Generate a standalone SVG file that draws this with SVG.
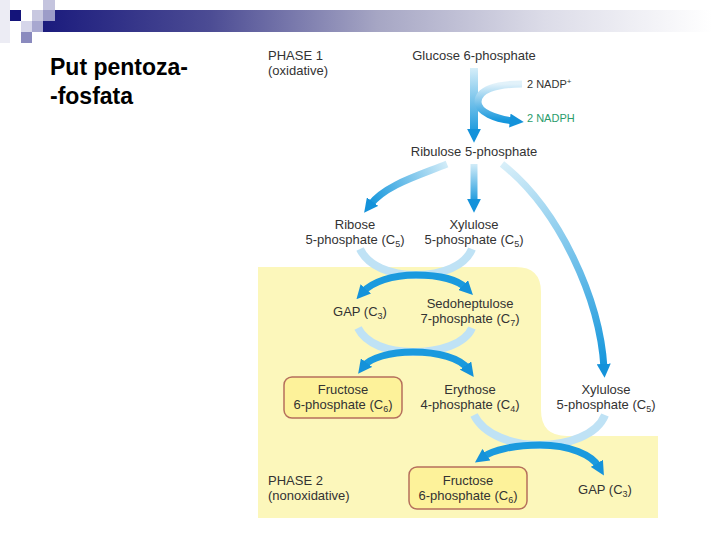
<svg xmlns="http://www.w3.org/2000/svg" width="720" height="540" viewBox="0 0 720 540">
<style>
.t{font-family:"Liberation Sans",Arial,sans-serif;font-size:13px;fill:#333333}
.m{text-anchor:middle}
.sub{font-size:9px}
.title{font-family:"Liberation Sans",Arial,sans-serif;font-size:23px;font-weight:bold;fill:#000}
.pale{fill:none;stroke:#bfe2f5;stroke-width:8}
.dark{fill:none;stroke:#1a9ade;stroke-width:7;marker-end:url(#ah)}
.box{fill:#fdf29a;stroke:#b56f5c;stroke-width:1.5}
</style>
<defs>
<linearGradient id="bar" gradientUnits="userSpaceOnUse" x1="43" y1="0" x2="712" y2="0">
<stop offset="0" stop-color="#1b1b7d"/><stop offset="0.25" stop-color="#4c4c94"/><stop offset="0.5" stop-color="#a6a6c4"/><stop offset="0.75" stop-color="#dcdce8"/><stop offset="1" stop-color="#ffffff"/>
</linearGradient>
<linearGradient id="g1" gradientUnits="userSpaceOnUse" x1="0" y1="68" x2="0" y2="135"><stop offset="0" stop-color="#d6eef9"/><stop offset="1" stop-color="#1496dc"/></linearGradient>
<linearGradient id="g2" gradientUnits="userSpaceOnUse" x1="0" y1="84" x2="0" y2="121"><stop offset="0" stop-color="#e2f2fa"/><stop offset="1" stop-color="#1496dc"/></linearGradient>
<linearGradient id="g3" gradientUnits="userSpaceOnUse" x1="447" y1="164" x2="370" y2="205"><stop offset="0" stop-color="#d2ecf8"/><stop offset="1" stop-color="#1496dc"/></linearGradient>
<linearGradient id="g4" gradientUnits="userSpaceOnUse" x1="0" y1="164" x2="0" y2="203"><stop offset="0" stop-color="#d2ecf8"/><stop offset="1" stop-color="#1496dc"/></linearGradient>
<linearGradient id="g5" gradientUnits="userSpaceOnUse" x1="502" y1="164" x2="604" y2="368"><stop offset="0" stop-color="#d8eff9"/><stop offset="1" stop-color="#1496dc"/></linearGradient>
<marker id="ah" viewBox="0 0 10 10" refX="3" refY="5" markerWidth="14" markerHeight="14" markerUnits="userSpaceOnUse" orient="auto">
<path d="M0,0 L10,5 L0,10 z" fill="#1492da"/>
</marker>
</defs>

<g id="background">
<rect x="0" y="0" width="720" height="540" fill="#ffffff"/>
<rect x="0" y="0" width="10" height="43" fill="#ececf4"/>
<rect x="43" y="10" width="677" height="22" fill="url(#bar)"/>
<rect x="10" y="10" width="11" height="11" fill="#14147a"/>
<rect x="32" y="10" width="11" height="11" fill="#c8c8e0"/>
<rect x="43" y="0" width="12" height="10" fill="#c4c4de"/>
<rect x="43" y="10" width="12" height="11" fill="#9c9cc8"/>
<rect x="21" y="21" width="11" height="11" fill="#d6d6ea"/>
<rect x="32" y="21" width="11" height="11" fill="#a8a8d0"/>
<rect x="21" y="32" width="11" height="11" fill="#8a8abe"/>
<path d="M258,267 H516 Q541,267 541,292 V410 Q541,436 567,436 H658 V518 H258 Z" fill="#fcf7bb"/>
</g>

<g id="title">
<text class="title" x="50" y="75">Put pentoza-</text>
<text class="title" x="50" y="104">-fosfata</text>
</g>

<g id="labels">
<text class="t" x="268" y="60">PHASE 1</text>
<text class="t" x="268" y="75">(oxidative)</text>
<text class="t" x="268" y="485">PHASE 2</text>
<text class="t" x="268" y="500">(nonoxidative)</text>
</g>

<g id="connectors">
<path d="M474,68 V133" fill="none" stroke="url(#g1)" stroke-width="8" marker-end="url(#ah)"/>
<path d="M522,84 C495,84 478,90 478,102 C478,112 495,119 514,121" fill="none" stroke="url(#g2)" stroke-width="7" marker-end="url(#ah)"/>
<path d="M447,164 C420,175 385,185 370,205" fill="none" stroke="url(#g3)" stroke-width="7" marker-end="url(#ah)"/>
<path d="M474,164 V203" fill="none" stroke="url(#g4)" stroke-width="7" marker-end="url(#ah)"/>
<path d="M502,164 C560,210 600,300 604,368" fill="none" stroke="url(#g5)" stroke-width="7" marker-end="url(#ah)"/>
<path class="pale" d="M360,249 C368,266 390,275 416,275"/>
<path class="pale" d="M472,249 C465,266 442,275 416,275"/>
<path class="dark" d="M416,275 C440,275 458,280 466,288"/>
<path class="dark" d="M416,275 C392,275 372,282 363,292"/>
<path class="pale" d="M358,328 C366,344 388,352 413,352"/>
<path class="pale" d="M472,328 C465,344 440,352 413,352"/>
<path class="dark" d="M413,352 C438,352 460,358 468,369"/>
<path class="dark" d="M413,352 C390,352 370,358 364,366"/>
<path class="pale" d="M474,415 C484,435 512,445 540,445"/>
<path class="pale" d="M605,415 C597,435 568,445 540,445"/>
<path class="dark" d="M540,445 C570,445 592,455 599,467"/>
<path class="dark" d="M540,445 C515,445 493,450 483,457"/>
</g>

<g id="glucose6p"><text class="t m" x="474" y="60">Glucose 6-phosphate</text></g>
<g id="nadp"><text class="t" x="527" y="88" style="font-size:11px">2 NADP<tspan dy="-4" style="font-size:8px">+</tspan></text></g>
<g id="nadph"><text class="t" x="527" y="122" style="font-size:11px;fill:#2a9c6c">2 NADPH</text></g>
<g id="ribulose5p"><text class="t m" x="474" y="156">Ribulose 5-phosphate</text></g>
<g id="ribose5p"><text class="t m" x="355" y="229">Ribose</text><text class="t m" x="355" y="244">5-phosphate (C<tspan class="sub" dy="3">5</tspan><tspan dy="-3">)</tspan></text></g>
<g id="xylulose5p-1"><text class="t m" x="474" y="229">Xylulose</text><text class="t m" x="474" y="244">5-phosphate (C<tspan class="sub" dy="3">5</tspan><tspan dy="-3">)</tspan></text></g>
<g id="gap1"><text class="t m" x="360" y="316">GAP (C<tspan class="sub" dy="3">3</tspan><tspan dy="-3">)</tspan></text></g>
<g id="sedoheptulose7p"><text class="t m" x="470" y="308">Sedoheptulose</text><text class="t m" x="470" y="323">7-phosphate (C<tspan class="sub" dy="3">7</tspan><tspan dy="-3">)</tspan></text></g>
<g id="fructose6p-1"><rect class="box" x="284" y="377" width="118" height="41" rx="8"/><text class="t m" x="343" y="394">Fructose</text><text class="t m" x="343" y="409">6-phosphate (C<tspan class="sub" dy="3">6</tspan><tspan dy="-3">)</tspan></text></g>
<g id="erythose4p"><text class="t m" x="470" y="394">Erythose</text><text class="t m" x="470" y="409">4-phosphate (C<tspan class="sub" dy="3">4</tspan><tspan dy="-3">)</tspan></text></g>
<g id="xylulose5p-2"><text class="t m" x="606" y="394">Xylulose</text><text class="t m" x="606" y="409">5-phosphate (C<tspan class="sub" dy="3">5</tspan><tspan dy="-3">)</tspan></text></g>
<g id="fructose6p-2"><rect class="box" x="409" y="467" width="118" height="42" rx="8"/><text class="t m" x="468" y="485">Fructose</text><text class="t m" x="468" y="500">6-phosphate (C<tspan class="sub" dy="3">6</tspan><tspan dy="-3">)</tspan></text></g>
<g id="gap2"><text class="t m" x="605" y="494">GAP (C<tspan class="sub" dy="3">3</tspan><tspan dy="-3">)</tspan></text></g>
</svg>
